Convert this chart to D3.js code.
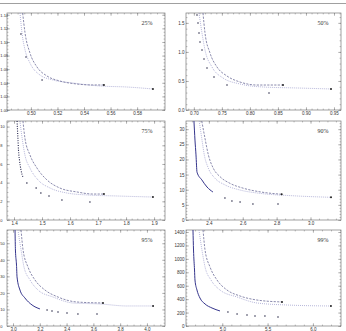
<!DOCTYPE html>
<html>
<head>
<meta charset="utf-8">
<script src="https://cdn.jsdelivr.net/npm/d3@7"></script>
<style>
  body { margin: 0; background: #fff; }
  svg { display: block; font-family: "Liberation Serif", "DejaVu Serif", serif; }
  .tick text { fill: #333; font-size: 4.5px; }
  .tick line { stroke: #777; stroke-width: 0.5; }
</style>
</head>
<body>
<svg id="chart" width="346" height="331"></svg>
<script>
const labels = ["25%", "50%", "75%", "90%", "95%", "99%"];

// 25%
const xTicks25 = [0.50, 0.52, 0.54, 0.56, 0.58];
const yTicks25 = [1.00, 1.02, 1.04, 1.06, 1.08, 1.10, 1.12, 1.14];
const darkLine25 = [];
const darkDots25 = [[0.4925, 1.1117], [0.4963, 1.0779], [0.5084, 1.0441]];
const outer25 = [[0.4938, 1.1426], [0.4956, 1.1132], [0.4993, 1.0838], [0.5046, 1.0632], [0.5121, 1.05], [0.5219, 1.0426], [0.5347, 1.0382], [0.5468, 1.0368], [0.555, 1.0368]];
const inner25 = [[0.4918, 1.1426], [0.4933, 1.1132], [0.4956, 1.0882], [0.4993, 1.0691], [0.5068, 1.0515], [0.5166, 1.0441], [0.5317, 1.0397], [0.552, 1.0353], [0.5723, 1.0338], [0.5919, 1.0309]];

// 50%
const xTicks50 = [0.70, 0.75, 0.80, 0.85, 0.90, 0.95];
const yTicks50 = [0, 0.5, 1.0, 1.5];
const darkLine50 = [];
const darkDots50 = [[0.7056, 1.636], [0.7074, 1.498], [0.7092, 1.326], [0.711, 1.171], [0.7145, 1.033], [0.7181, 0.878], [0.7235, 0.723], [0.736, 0.568], [0.7591, 0.43], [0.8341, 0.293]];
const outer50 = [[0.7163, 1.67], [0.7199, 1.326], [0.7288, 0.982], [0.7413, 0.74], [0.7591, 0.585], [0.7823, 0.482], [0.8127, 0.43], [0.859, 0.43]];
const inner50 = [[0.7092, 1.67], [0.7145, 1.326], [0.7199, 1.033], [0.7324, 0.74], [0.752, 0.551], [0.7823, 0.448], [0.8234, 0.396], [0.884, 0.379], [0.9447, 0.362]];

// 75%
const xTicks75 = [1.4, 1.5, 1.6, 1.7, 1.8, 1.9];
const yTicks75 = [0, 2, 4, 6, 8, 10];
const darkLine75 = [[1.411, 10.6], [1.4125, 9.63], [1.4143, 8.56], [1.416, 7.49], [1.4196, 6.42], [1.425, 5.35], [1.432, 4.6]];
const darkDots75 = [[1.446, 3.96], [1.479, 3.42], [1.496, 2.89], [1.525, 2.57], [1.571, 2.14], [1.671, 1.93]];
const outer75 = [[1.432, 10.6], [1.439, 8.77], [1.457, 6.96], [1.482, 5.56], [1.518, 4.28], [1.564, 3.42], [1.625, 3.0], [1.682, 2.78], [1.721, 2.78]];
const inner75 = [[1.421, 10.6], [1.429, 8.77], [1.439, 6.96], [1.457, 5.56], [1.486, 4.28], [1.529, 3.42], [1.589, 2.89], [1.661, 2.68], [1.768, 2.57], [1.896, 2.46]];

// 90%
const xTicks90 = [2.4, 2.6, 2.8, 3.0];
const yTicks90 = [0, 5, 10, 15, 20, 25, 30];
const darkLine90 = [[2.312, 32.7], [2.318, 26.4], [2.324, 21.5], [2.33, 15.8], [2.359, 13.2], [2.389, 10.9], [2.424, 9.24]];
const darkDots90 = [[2.495, 7.26], [2.536, 6.27], [2.584, 5.94], [2.66, 5.28], [2.808, 5.28]];
const outer90 = [[2.358, 32.7], [2.377, 27.0], [2.397, 21.5], [2.426, 17.1], [2.466, 14.3], [2.525, 12.1], [2.603, 10.5], [2.702, 9.3], [2.83, 8.5]];
const inner90 = [[2.343, 32.7], [2.358, 27.0], [2.373, 21.5], [2.397, 17.1], [2.436, 13.8], [2.495, 11.6], [2.584, 9.9], [2.702, 8.8], [2.898, 8.0], [3.121, 7.5]];

// 95%
const xTicks95 = [3.0, 3.2, 3.4, 3.6, 3.8, 4.0];
const yTicks95 = [0, 10, 20, 30, 40, 50];
const darkLine95 = [[3.015, 58], [3.018, 45.9], [3.026, 36.8], [3.03, 29.6], [3.052, 21.7], [3.089, 16.9], [3.142, 12.7], [3.201, 10.3]];
const darkDots95 = [[3.254, 9.66], [3.291, 9.06], [3.336, 8.46], [3.403, 7.85], [3.485, 7.25], [3.627, 7.25]];
const outer95 = [[3.06, 58], [3.075, 45.9], [3.112, 35.6], [3.164, 27.8], [3.239, 21.7], [3.336, 17.5], [3.478, 14.5], [3.672, 13.9]];
const inner95 = [[3.037, 58], [3.06, 45.9], [3.082, 35.6], [3.127, 27.8], [3.187, 21.7], [3.299, 17.5], [3.448, 13.9], [3.65, 13.3], [3.851, 12.1], [4.046, 12.1]];

// 99%
const xTicks99 = [5.0, 5.5, 6.0];
const yTicks99 = [0, 200, 400, 600, 800, 1000, 1200, 1400];
const darkLine99 = [[4.677, 1430], [4.683, 1132], [4.694, 834], [4.699, 685], [4.721, 536], [4.754, 417], [4.81, 328], [4.887, 268], [4.975, 224]];
const darkDots99 = [[5.063, 209], [5.163, 179], [5.273, 164], [5.361, 149], [5.471, 149], [5.615, 134]];
const outer99 = [[4.788, 1430], [4.81, 1132], [4.865, 879], [4.942, 685], [5.052, 536], [5.196, 447], [5.383, 387], [5.659, 358]];
const inner99 = [[4.743, 1430], [4.776, 1132], [4.81, 879], [4.876, 685], [4.975, 536], [5.163, 432], [5.383, 343], [5.714, 313], [6.199, 298]];

const panels = [
  { label: labels[0], col: 0, row: 0, xDomain: [0.482, 0.601], yDomain: [1.0, 1.1426], xTicks: xTicks25, yTicks: yTicks25, xFmt: ".2f", yFmt: ".2f", xMinor: 0.005, yMinor: 0.005, darkLine: darkLine25, darkDots: darkDots25, outer: outer25, inner: inner25 },
  { label: labels[1], col: 1, row: 0, xDomain: [0.686, 0.9625], yDomain: [0, 1.67], xTicks: xTicks50, yTicks: yTicks50, xFmt: ".2f", yFmt: ".1f", xMinor: 0.01, yMinor: 0.1, darkLine: darkLine50, darkDots: darkDots50, outer: outer50, inner: inner50 },
  { label: labels[2], col: 0, row: 1, xDomain: [1.375, 1.939], yDomain: [0, 10.6], xTicks: xTicks75, yTicks: yTicks75, xFmt: ".1f", yFmt: "d", xMinor: 0.02, yMinor: 0.5, darkLine: darkLine75, darkDots: darkDots75, outer: outer75, inner: inner75 },
  { label: labels[3], col: 1, row: 1, xDomain: [2.265, 3.18], yDomain: [0, 32.7], xTicks: xTicks90, yTicks: yTicks90, xFmt: ".1f", yFmt: "d", xMinor: 0.05, yMinor: 1, darkLine: darkLine90, darkDots: darkDots90, outer: outer90, inner: inner90 },
  { label: labels[4], col: 0, row: 2, xDomain: [2.955, 4.135], yDomain: [0, 58], xTicks: xTicks95, yTicks: yTicks95, xFmt: ".1f", yFmt: "d", xMinor: 0.05, yMinor: 2, darkLine: darkLine95, darkDots: darkDots95, outer: outer95, inner: inner95 },
  { label: labels[5], col: 1, row: 2, xDomain: [4.6, 6.31], yDomain: [0, 1430], xTicks: xTicks99, yTicks: yTicks99, xFmt: ".1f", yFmt: "d", xMinor: 0.1, yMinor: 50, darkLine: darkLine99, darkDots: darkDots99, outer: outer99, inner: inner99 },
];

const colX = [[7, 165], [186, 341]];
const rowY = [[13, 110], [121, 220], [230, 326]];

const svg = d3.select("#chart");

svg.append("line")
  .attr("x1", 0).attr("x2", 346)
  .attr("y1", 3.5).attr("y2", 3.5)
  .attr("stroke", "#a0a0a0")
  .attr("stroke-width", 1);

function minorValues(domain, step) {
  const start = Math.ceil(domain[0] / step - 1e-9) * step;
  return d3.range(start, domain[1] + 1e-9, step);
}

panels.forEach((p, i) => {
  const [x0, x1] = colX[p.col];
  const [y0, y1] = rowY[p.row];
  const x = d3.scaleLinear().domain(p.xDomain).range([x0, x1]);
  const y = d3.scaleLinear().domain(p.yDomain).range([y1, y0]);

  const g = svg.append("g");

  g.append("clipPath").attr("id", `clip${i}`)
    .append("rect")
    .attr("x", x0).attr("y", y0)
    .attr("width", x1 - x0).attr("height", y1 - y0);

  // minor ticks
  const xm = minorValues(p.xDomain, p.xMinor);
  const ym = minorValues(p.yDomain, p.yMinor);
  const minorAxes = [
    [d3.axisBottom(x).tickValues(xm), `translate(0,${y1})`],
    [d3.axisTop(x).tickValues(xm), `translate(0,${y0})`],
    [d3.axisLeft(y).tickValues(ym), `translate(${x0},0)`],
    [d3.axisRight(y).tickValues(ym), `translate(${x1},0)`],
  ];
  minorAxes.forEach(([ax, tr]) => {
    g.append("g").attr("transform", tr)
      .call(ax.tickSize(-1.4).tickFormat(""))
      .call((s) => s.select(".domain").remove());
  });

  // major ticks
  g.append("g").attr("transform", `translate(0,${y1})`)
    .call(d3.axisBottom(x).tickValues(p.xTicks).tickSize(-2.8).tickPadding(2.2).tickFormat(d3.format(p.xFmt)))
    .call((s) => s.select(".domain").remove());
  g.append("g").attr("transform", `translate(0,${y0})`)
    .call(d3.axisTop(x).tickValues(p.xTicks).tickSize(-2.8).tickFormat(""))
    .call((s) => s.select(".domain").remove());
  const leftAxis = g.append("g").attr("transform", `translate(${x0},0)`)
    .call(d3.axisLeft(y).tickValues(p.yTicks).tickSize(-2.8).tickPadding(1.5).tickFormat(d3.format(p.yFmt)))
    .call((s) => s.select(".domain").remove());
  if (p.col === 0) {
    // left column labels sit flush against the page edge
    leftAxis.selectAll(".tick text")
      .attr("text-anchor", "start")
      .attr("x", 0.3 - x0)
      .style("font-size", "4px");
  }
  g.append("g").attr("transform", `translate(${x1},0)`)
    .call(d3.axisRight(y).tickValues(p.yTicks).tickSize(-2.8).tickFormat(""))
    .call((s) => s.select(".domain").remove());

  g.selectAll(".tick text").attr("font-family", null);

  // frame
  g.append("rect")
    .attr("x", x0).attr("y", y0)
    .attr("width", x1 - x0).attr("height", y1 - y0)
    .attr("fill", "none")
    .attr("stroke", "#7a7a7a")
    .attr("stroke-width", 0.7);

  const line = d3.line()
    .x((d) => x(d[0]))
    .y((d) => y(d[1]))
    .curve(d3.curveMonotoneX);

  const plot = g.append("g").attr("clip-path", `url(#clip${i})`);

  plot.append("path")
    .datum(p.inner)
    .attr("d", line)
    .attr("fill", "none")
    .attr("stroke", "#9c9ccc")
    .attr("stroke-width", 0.8)
    .attr("stroke-dasharray", "0.9 1.1");

  plot.append("path")
    .datum(p.outer)
    .attr("d", line)
    .attr("fill", "none")
    .attr("stroke", "#6c6c98")
    .attr("stroke-width", 0.8)
    .attr("stroke-dasharray", "2.2 1.3");

  if (p.darkLine.length) {
    const thin = i === 2;
    plot.append("path")
      .datum(p.darkLine)
      .attr("d", line)
      .attr("fill", "none")
      .attr("stroke", thin ? "#22224a" : "#35358c")
      .attr("stroke-width", thin ? 1.1 : 1.0)
      .attr("stroke-dasharray", thin ? "1 1.4" : null);
  }

  plot.selectAll("circle.dot")
    .data(p.darkDots)
    .join("circle")
    .attr("class", "dot")
    .attr("cx", (d) => x(d[0]))
    .attr("cy", (d) => y(d[1]))
    .attr("r", 0.75)
    .attr("fill", "#1d1d3d");

  plot.selectAll("circle.end")
    .data([p.outer[p.outer.length - 1], p.inner[p.inner.length - 1]])
    .join("circle")
    .attr("class", "end")
    .attr("cx", (d) => x(d[0]))
    .attr("cy", (d) => y(d[1]))
    .attr("r", 1.0)
    .attr("fill", "#222");

  g.append("text")
    .attr("x", x1 - 18)
    .attr("y", y0 + 12)
    .attr("text-anchor", "middle")
    .attr("font-size", 6)
    .attr("fill", "#333")
    .text(p.label);
});
</script>
</body>
</html>
